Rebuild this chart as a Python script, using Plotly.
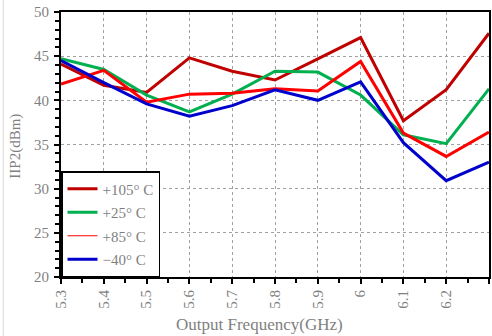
import plotly.graph_objects as go

freq = [5.3, 5.4, 5.5, 5.6, 5.7, 5.8, 5.9, 6.0, 6.1, 6.2, 6.3]
t105 = [44.1, 41.7, 40.9, 44.8, 43.3, 42.3, 44.7, 47.1, 37.7, 41.2, 47.6]
t25 = [44.7, 43.5, 40.6, 38.7, 40.7, 43.3, 43.2, 40.6, 36.1, 35.1, 41.3]
t85 = [41.85, 43.4, 39.8, 40.7, 40.8, 41.3, 41.05, 44.4, 36.3, 33.65, 36.4]
tm40 = [44.5, 42.0, 39.6, 38.2, 39.4, 41.2, 40.0, 42.1, 35.2, 30.9, 33.0]

names = ["+105° C", "+25° C", "+85° C", "−40° C"]
colors = ["#C00000", "#00B050", "#FF0000", "#0000CC"]
xtick_vals = [5.3, 5.4, 5.5, 5.6, 5.7, 5.8, 5.9, 6.0, 6.1, 6.2, 6.3]
xtick_text = ["5.3", "5.4", "5.5", "5.6", "5.7", "5.8", "5.9", "6", "6.1", "6.2", "6.3"]
x_title = "Output Frequency(GHz)"
y_title = "IIP2(dBm)"

FONT = "Liberation Serif"
GRAY = "#7f7f7f"

fig = go.Figure()
series = [t105, t25, t85, tm40]
for i, (ys, nm, c) in enumerate(zip(series, names, colors)):
    fig.add_trace(go.Scatter(
        x=freq, y=ys, mode="lines", name=nm,
        line=dict(color=c, width=3),
        showlegend=(i != 2), legendrank=i + 1, legendgroup="g%d" % i,
    ))
# thin legend sample for +85 as in the reference
fig.add_trace(go.Scatter(x=[None], y=[None], mode="lines", name=names[2],
                         line=dict(color=colors[2], width=1), legendrank=3,
                         legendgroup="g2leg"))

axis_common = dict(
    showline=True, linecolor="black", linewidth=2, mirror=True,
    showgrid=True, gridcolor="#a0a0a0", griddash="dot", gridwidth=1,
    ticks="outside", tickcolor="black", ticklen=5, tickwidth=1.5,
    tickfont=dict(family=FONT, size=15, color=GRAY),
    zeroline=False,
)

fig.update_layout(
    width=492, height=336,
    margin=dict(l=61, r=1, t=12, b=59),
    paper_bgcolor="white", plot_bgcolor="white",
    font=dict(family=FONT, color=GRAY),
    xaxis=dict(
        range=[5.3, 6.3], tickvals=xtick_vals, ticktext=xtick_text, tickangle=-90,
        minor=dict(dtick=0.05, tick0=5.3, ticks="outside", ticklen=4, tickcolor="black", showgrid=False),
        **axis_common,
    ),
    yaxis=dict(
        range=[20, 50], dtick=5, tick0=20, ticklabelstandoff=2,
        minor=dict(dtick=1, ticks="outside", ticklen=4, tickcolor="black", showgrid=False),
        **axis_common,
    ),
    legend=dict(
        x=0, y=0, xanchor="left", yanchor="bottom",
        bgcolor="white", bordercolor="black", borderwidth=1.5,
        font=dict(family=FONT, size=15, color=GRAY),
        itemwidth=30, tracegroupgap=1,
    ),
    annotations=[
        dict(text=x_title, xref="paper", yref="paper", x=0.463, y=-0.181,
             xanchor="center", yanchor="middle", showarrow=False,
             font=dict(family=FONT, size=17, color=GRAY)),
        dict(text=y_title, xref="paper", yref="paper", x=-0.107, y=0.4925,
             xanchor="center", yanchor="middle", showarrow=False, textangle=-90,
             font=dict(family=FONT, size=15, color=GRAY)),
    ],
    shapes=[
        dict(type="line", xref="paper", yref="paper", x0=-0.135, x1=-0.135,
             y0=-0.2226, y1=1.045, line=dict(color="#d8d8d8", width=1)),
    ],
)

fig.write_html("out.html")
